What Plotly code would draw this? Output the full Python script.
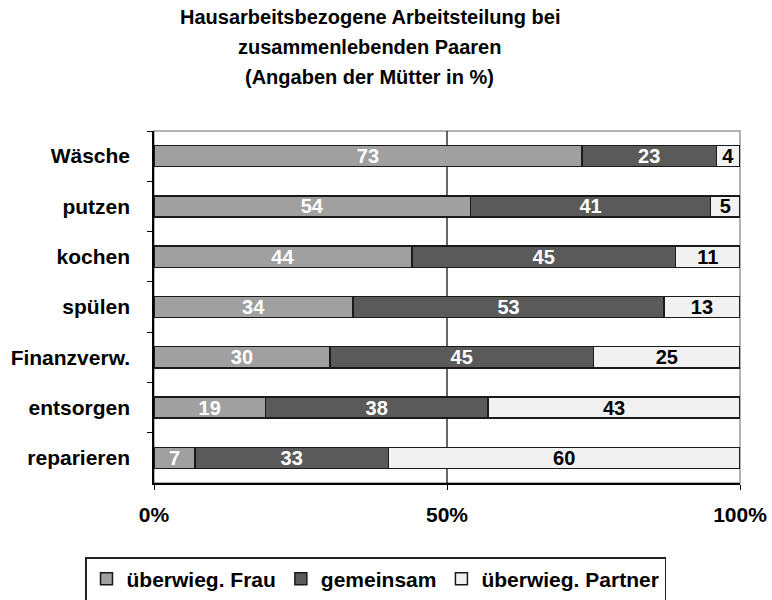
import plotly.graph_objects as go

categories = ["Wäsche", "putzen", "kochen", "spülen", "Finanzverw.", "entsorgen", "reparieren"]
frau = [73, 54, 44, 34, 30, 19, 7]
gemeinsam = [23, 41, 45, 53, 45, 38, 33]
partner = [4, 5, 11, 13, 25, 43, 60]
series_names = ["überwieg. Frau", "gemeinsam", "überwieg. Partner"]
x_ticks = [0, 50, 100]
x_ticklabels = ["0%", "50%", "100%"]
title_lines = ["Hausarbeitsbezogene Arbeitsteilung bei", "zusammenlebenden Paaren", "(Angaben der Mütter in %)"]

FONT = "Liberation Sans, Arial, sans-serif"
colors = ["#a0a0a0", "#5a5a5a", "#f1f1f1"]
text_colors = ["white", "white", "black"]

PLOT_H = 600 - 131 - 117

fig = go.Figure()
for name, vals, col, tcol in zip(series_names, [frau, gemeinsam, partner], colors, text_colors):
    fig.add_trace(go.Bar(
        y=categories, x=vals, name=name, orientation="h",
        marker=dict(color=col, line=dict(color="#1a1a1a", width=1.5)),
        text=[str(v) for v in vals], textposition="inside", insidetextanchor="middle",
        textangle=0, constraintext="none",
        textfont=dict(family=FONT, size=20, color=tcol, weight="bold"),
        cliponaxis=False,
    ))

fig.update_layout(
    width=772, height=600,
    barmode="stack", bargap=0.58,
    plot_bgcolor="white", paper_bgcolor="white",
    margin=dict(l=154, r=32, t=131, b=117, autoexpand=False),
    font=dict(family=FONT, size=21, color="black", weight="bold"),
    showlegend=True,
    legend=dict(orientation="h", x=(85 - 154) / 586, y=(PLOT_H - (557 - 131)) / PLOT_H,
                xanchor="left", yanchor="top",
                bordercolor="#222222", borderwidth=1.5,
                font=dict(family=FONT, size=21, color="black", weight="bold"),
                traceorder="normal"),
    shapes=[
        dict(type="rect", xref="paper", yref="paper", x0=0, x1=1, y0=0, y1=1,
             line=dict(color="#9a9a9a", width=1.5), layer="below"),
        dict(type="line", xref="x", yref="paper", x0=50, x1=50, y0=0, y1=1,
             line=dict(color="black", width=1.2), layer="below"),
    ],
)
for i, line in enumerate(title_lines):
    fig.add_annotation(text=line, xref="paper", yref="paper", x=0.368,
                       y=1 + (131 - 17 - 30 * i) / PLOT_H,
                       showarrow=False, xanchor="center", yanchor="middle",
                       font=dict(family=FONT, size=20, color="black", weight="bold"))

fig.update_xaxes(range=[0, 100], tickvals=x_ticks, ticktext=x_ticklabels,
                 showgrid=False, zeroline=False, showline=True, linecolor="black", linewidth=1.5,
                 ticks="outside", ticklen=5, tickcolor="black", ticklabelstandoff=7,
                 tickfont=dict(family=FONT, size=21, color="black", weight="bold"),
                 fixedrange=True, automargin=False)
fig.update_yaxes(categoryorder="array", categoryarray=categories, autorange="reversed",
                 showgrid=False, zeroline=False, showline=True, linecolor="black", linewidth=1.5,
                 ticks="outside", ticklen=5, tickcolor="black", tickson="boundaries",
                 ticklabelstandoff=18,
                 tickfont=dict(family=FONT, size=21, color="black", weight="bold"),
                 fixedrange=True, automargin=False)

fig.write_html("out.html", config={"displayModeBar": False},
               post_script="document.body.style.margin='0';document.body.style.overflow='hidden';")
